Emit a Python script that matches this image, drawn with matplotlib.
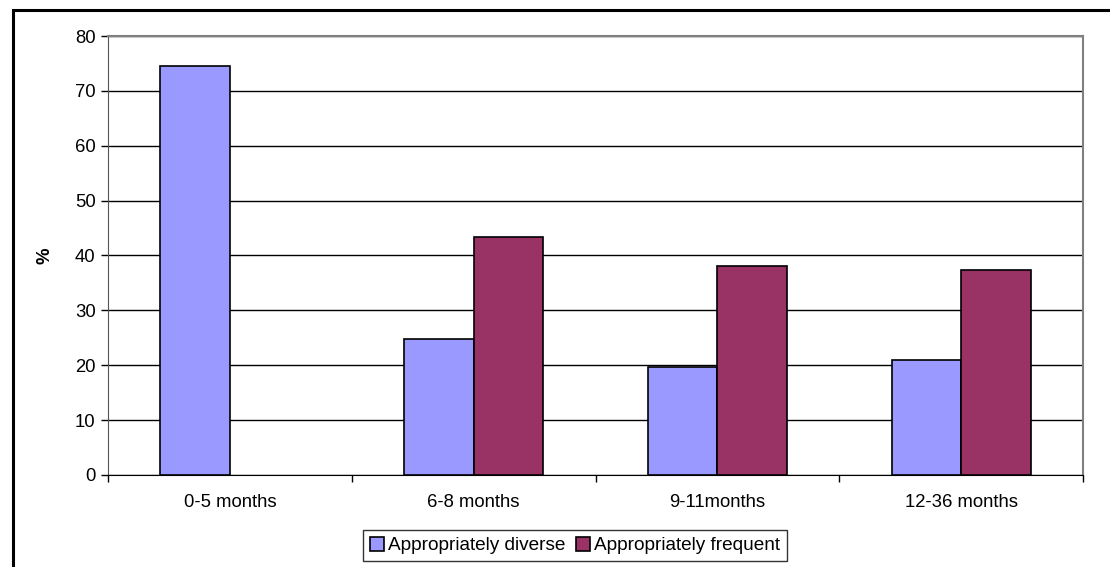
# Complementary feeding indicators by child age group
import numpy as np
import matplotlib.pyplot as plt
from matplotlib.patches import Rectangle

plt.rcParams['font.family'] = ['Liberation Sans', 'DejaVu Sans']

### Data ###
age_groups = ["0-5 months", "6-8 months", "9-11months", "12-36 months"]
diverse = [74.6, 24.8, 19.7, 20.9]
frequent = [np.nan, 43.4, 38.0, 37.3]
series_names = ["Appropriately diverse", "Appropriately frequent"]
yticks = [0, 10, 20, 30, 40, 50, 60, 70, 80]

FS = 13.3

### Plot ###
fig = plt.figure(figsize=(11.1, 5.67), dpi=100)
ax = fig.add_axes([0.0973, 0.1623, 0.8784, 0.7742])

x = np.arange(len(age_groups))
w = 1 / 3.5  # excel style gap width 150%
ax.bar(x - w / 2, diverse, w, color="#9999FF", edgecolor="black", linewidth=1.2,
       label=series_names[0], zorder=3)
ax.bar(x + w / 2, frequent, w, color="#993366", edgecolor="black", linewidth=1.2,
       label=series_names[1], zorder=3)

ax.set_xlim(-0.5, len(age_groups) - 0.5)
ax.set_ylim(0, 80)
ax.set_yticks(yticks)
ax.yaxis.grid(True, color="black", linewidth=1)
ax.set_axisbelow(True)

# category labels centred, tick marks on the boundaries
ax.set_xticks(x)
ax.set_xticklabels(age_groups, fontsize=FS)
ax.set_xticks(np.arange(len(age_groups) + 1) - 0.5, minor=True)
ax.tick_params(axis="x", which="major", length=0, pad=14)
ax.tick_params(axis="x", which="minor", length=5, width=1, color="black")
ax.tick_params(axis="y", labelsize=FS, length=5, width=1, pad=4)

for side in ["top", "right"]:
    ax.spines[side].set_color("#808080")
    ax.spines[side].set_linewidth(1.5)
ax.spines["left"].set_color("#555555")
ax.spines["bottom"].set_color("black")

ax.set_ylabel("%", fontsize=FS, fontweight="bold", labelpad=15)

leg = fig.legend(loc="center", bbox_to_anchor=(0.518, 0.038), ncol=2, fontsize=FS + 0.4,
                 frameon=True, fancybox=False, edgecolor="black", handlelength=0.75,
                 handleheight=0.75, handletextpad=0.2, columnspacing=0.55,
                 borderpad=0.35, borderaxespad=0)
leg.get_frame().set_linewidth(1)

# outer chart frame
fig.patches.append(Rectangle((13 / 1110, -0.1), 1.2, 1 - 10 / 567 + 0.1,
                             transform=fig.transFigure, fill=False,
                             edgecolor="black", linewidth=2.2))

plt.savefig("out.png", dpi=100)
